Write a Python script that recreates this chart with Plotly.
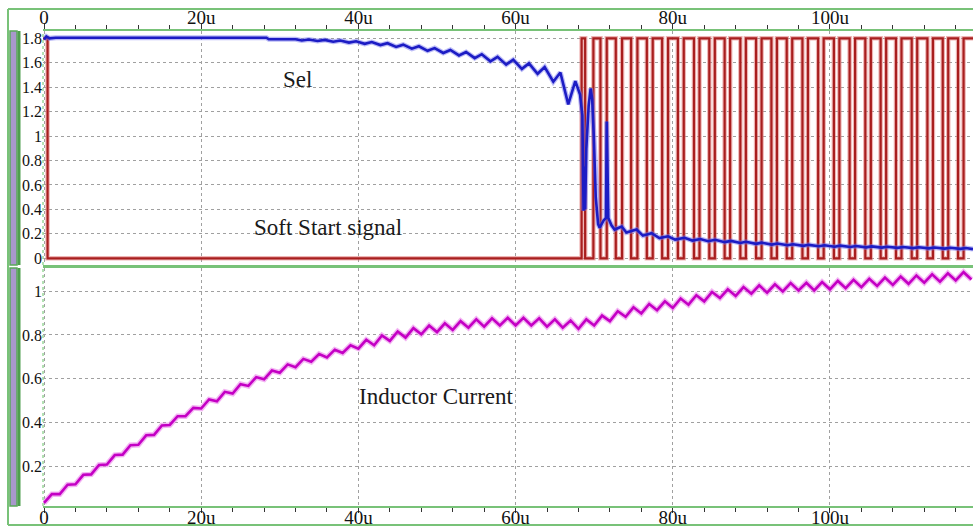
import plotly.graph_objects as go

FONT = "Liberation Serif, Times New Roman, serif"
GREEN = "#78c278"

# ---------------- data ----------------
# x axis ticks (time in microseconds)
x_tickvals = [0, 20, 40, 60, 80, 100]
x_ticktext = ["0", "20u", "40u", "60u", "80u", "100u"]
top_y_tickvals = [0, 0.2, 0.4, 0.6, 0.8, 1.0, 1.2, 1.4, 1.6, 1.8]
top_y_ticktext = ["0", "0.2", "0.4", "0.6", "0.8", "1", "1.2", "1.4", "1.6", "1.8"]
bot_y_tickvals = [0.2, 0.4, 0.6, 0.8, 1.0]
bot_y_ticktext = ["0.2", "0.4", "0.6", "0.8", "1"]

# Soft Start signal: level changes (signal starts high at 1.8)
ss_high = 1.8
ss_low = 0.0
ss_fall = [0.45, 68.85, 70.8, 72.75, 74.7, 76.7, 78.65, 80.65, 82.7, 84.65,
           86.6, 88.6, 90.6, 92.55, 94.5, 96.5, 98.5, 100.5, 102.5, 104.5,
           106.45, 108.4, 110.4, 112.4, 114.35, 116.3]
ss_rise = [68.4, 69.9, 71.6, 73.55, 75.5, 77.45, 79.4, 81.4, 83.4, 85.35,
           87.3, 89.3, 91.3, 93.25, 95.2, 97.2, 99.2, 101.2, 103.2, 105.2,
           107.15, 109.1, 111.1, 113.1, 115.05, 117.0]

# Sel waveform (time, value)
sel_t = [0, 0.3, 0.7, 1.5, 28.3, 28.6, 32.0,
         32.8, 33.7, 34.8, 35.7, 36.8, 37.7, 38.8, 39.7, 40.8, 41.7, 42.8, 43.7,
         44.8, 45.7, 46.8, 47.7, 48.8, 49.7, 50.8, 51.7, 52.8, 53.7, 54.8, 55.7,
         56.8, 57.7, 58.8, 59.7, 60.8, 61.7, 62.8, 63.7, 64.8, 65.7, 66.7, 67.6,
         68.2, 68.5, 68.65, 68.75, 68.85, 69.0, 69.3, 69.55, 69.75, 69.95,
         70.2, 70.5, 70.7, 71.2, 71.5, 71.6, 71.7, 71.8, 72.2, 72.6,
         73.5, 74.1, 75.4, 76.2, 77.3, 78.3, 79.4, 80.3, 81.5,
         82.5, 83.5, 84.5, 85.4,
         86.6, 87.4, 88.6, 89.3, 90.6, 91.3, 92.6, 93.3, 94.6, 95.3, 96.6, 97.3,
         98.6, 99.3, 100.6, 101.3, 102.6, 103.3, 104.6, 105.3, 106.6, 107.3,
         108.6, 109.3, 110.6, 111.3, 112.6, 113.3, 114.6, 115.3, 116.6, 117.3,
         118.2]
sel_v = [1.79, 1.815, 1.80, 1.805, 1.805, 1.792, 1.792,
         1.782, 1.79, 1.778, 1.787, 1.772, 1.782, 1.765, 1.776, 1.755, 1.77, 1.745, 1.76,
         1.73, 1.748, 1.715, 1.735, 1.698, 1.72, 1.68, 1.705, 1.66, 1.688, 1.638, 1.67,
         1.612, 1.648, 1.585, 1.625, 1.55, 1.595, 1.51, 1.565, 1.445, 1.52, 1.26, 1.45,
         1.34, 1.17, 0.39, 0.75, 0.40, 0.9, 1.25, 1.39, 1.3, 1.0,
         0.5, 0.28, 0.25, 0.31, 0.33, 1.12, 0.6, 0.33, 0.27, 0.235,
         0.26, 0.21, 0.235, 0.185, 0.205, 0.165, 0.18, 0.153, 0.168,
         0.145, 0.158, 0.14, 0.152,
         0.132, 0.142, 0.125, 0.135, 0.118, 0.128, 0.112, 0.121, 0.107, 0.115, 0.102, 0.11,
         0.098, 0.106, 0.095, 0.103, 0.092, 0.1, 0.089, 0.097, 0.087, 0.094,
         0.085, 0.092, 0.083, 0.09, 0.081, 0.088, 0.079, 0.086, 0.077, 0.084,
         0.075]

# Inductor current (time, value): alternating valleys / peaks
ind_t = list(range(0, 119))
ind_v = [0.035, 0.075, 0.075, 0.118, 0.12, 0.163, 0.165, 0.208, 0.21, 0.253,
         0.255, 0.298, 0.30, 0.343, 0.345, 0.388, 0.39, 0.43, 0.43, 0.468,
         0.465, 0.506, 0.498, 0.541, 0.533, 0.576, 0.568, 0.608, 0.598, 0.638,
         0.628, 0.666, 0.653, 0.691, 0.678, 0.713, 0.698, 0.733, 0.718, 0.753,
         0.738, 0.778, 0.753, 0.798, 0.773, 0.816, 0.788, 0.831, 0.803, 0.843,
         0.813, 0.853, 0.823, 0.863, 0.833, 0.871, 0.838, 0.876, 0.843, 0.878,
         0.843, 0.878, 0.843, 0.876, 0.838, 0.871, 0.833, 0.866, 0.828, 0.871,
         0.843, 0.888, 0.863, 0.908, 0.883, 0.926, 0.898, 0.941, 0.913, 0.953,
         0.923, 0.966, 0.938, 0.981, 0.953, 0.996, 0.968, 1.008, 0.978, 1.018,
         0.988, 1.026, 0.993, 1.031, 0.998, 1.036, 1.003, 1.038, 1.003, 1.041,
         1.008, 1.046, 1.013, 1.051, 1.018, 1.056, 1.023, 1.061, 1.028, 1.066,
         1.033, 1.071, 1.038, 1.076, 1.043, 1.081, 1.048, 1.086, 1.053]

# ---------------- build the step waveform from the edges ----------------
X_MIN, X_MAX = -0.13, 118.2
edges = sorted([(t, ss_low) for t in ss_fall] + [(t, ss_high) for t in ss_rise])
ss_x, ss_y = [X_MIN - 0.5], [ss_high]
cur = ss_high
for t, lvl in edges:
    ss_x += [t, t]
    ss_y += [cur, lvl]
    cur = lvl
ss_x.append(X_MAX + 0.5)
ss_y.append(cur)

fig = go.Figure()


def add_line(x, y, xa, ya, color, glow, w, gw):
    fig.add_trace(go.Scatter(x=x, y=y, mode="lines", xaxis=xa, yaxis=ya,
                             line=dict(color=glow, width=gw), hoverinfo="skip",
                             showlegend=False))
    fig.add_trace(go.Scatter(x=x, y=y, mode="lines", xaxis=xa, yaxis=ya,
                             line=dict(color=color, width=w), showlegend=False))


add_line(ss_x, ss_y, "x", "y", "#a81e1e", "rgba(225,120,120,0.55)", 2.2, 4.5)
add_line(sel_t, sel_v, "x", "y", "#1c1cc4", "rgba(120,120,240,0.5)", 2.6, 5)
add_line(ind_t, ind_v, "x2", "y2", "#c400c4", "rgba(235,130,235,0.6)", 2.6, 5.5)

# ---------------- layout ----------------
W, H = 973, 527
ML, MR, MT, MB = 43, 0, 31, 21
PW, PH = W - ML - MR, H - MT - MB


def px_x(x):
    return (x - ML) / PW


def px_y(y):
    return (H - MB - y) / PH


top_dom = [px_y(265), 1.0]
bot_dom = [0.0, px_y(268)]

xcommon = dict(range=[X_MIN, X_MAX], tickvals=x_tickvals, ticktext=x_ticktext,
               ticks="outside", ticklen=5, tickcolor="#333", tickwidth=1,
               minor=dict(dtick=4, tick0=0, ticks="outside", ticklen=4,
                          tickcolor="#333", showgrid=False),
               showline=True, linecolor=GREEN, linewidth=2, mirror=True,
               showgrid=True, gridcolor="#a0a0a0", griddash="dot", gridwidth=1,
               zeroline=False, automargin=False,
               tickfont=dict(family=FONT, size=19, color="#111"))
ycommon = dict(showgrid=True, gridcolor="#a0a0a0", griddash="dot", gridwidth=1,
               zeroline=False, showline=False, ticks="", automargin=False,
               tickfont=dict(family=FONT, size=16, color="#111"))

fig.update_layout(
    width=W, height=H,
    margin=dict(l=ML, r=MR, t=MT, b=MB, autoexpand=False),
    paper_bgcolor="white", plot_bgcolor="white",
    showlegend=False,
    xaxis=dict(xcommon, anchor="y", side="top", domain=[0, 1], ticklabelstandoff=-8),
    xaxis2=dict(xcommon, anchor="y2", side="bottom", domain=[0, 1], matches="x",
                ticklabelstandoff=-12),
    yaxis=dict(ycommon, domain=top_dom, range=[-0.055, 1.86],
               tickvals=top_y_tickvals, ticktext=top_y_ticktext),
    yaxis2=dict(ycommon, domain=bot_dom, range=[0.021, 1.105],
                tickvals=bot_y_tickvals, ticktext=bot_y_ticktext),
)

shapes = []
# outer frame lines
shapes.append(dict(type="line", xref="paper", yref="paper", x0=px_x(8), x1=1.0,
                   y0=px_y(9), y1=px_y(9), line=dict(color=GREEN, width=2)))
shapes.append(dict(type="line", xref="paper", yref="paper", x0=px_x(8), x1=1.0,
                   y0=px_y(525), y1=px_y(525), line=dict(color=GREEN, width=2)))
shapes.append(dict(type="line", xref="paper", yref="paper", x0=px_x(8), x1=px_x(8),
                   y0=px_y(525), y1=px_y(9), line=dict(color=GREEN, width=2)))
# left scroll bars
for d in (top_dom, bot_dom):
    shapes.append(dict(type="rect", xref="paper", yref="paper",
                       x0=px_x(10), x1=px_x(17), y0=d[0], y1=d[1],
                       fillcolor="#a898cc", line=dict(color="#5aa85a", width=1.5)))
    shapes.append(dict(type="line", xref="paper", yref="paper",
                       x0=px_x(19), x1=px_x(19), y0=d[0], y1=d[1],
                       line=dict(color="#4e9e4e", width=3)))
    shapes.append(dict(type="line", xref="paper", yref="paper",
                       x0=0, x1=0, y0=d[0], y1=d[1],
                       line=dict(color="#9ad89a", width=1.5, dash="dot")))
fig.update_layout(shapes=shapes)

ann_font = dict(family=FONT, size=23, color="#1a1a1a")
fig.update_layout(annotations=[
    dict(x=32.3, y=1.46, xref="x", yref="y", text="Sel", showarrow=False, font=ann_font),
    dict(x=36.1, y=0.25, xref="x", yref="y", text="Soft Start signal",
         showarrow=False, font=ann_font),
    dict(x=50.0, y=0.52, xref="x2", yref="y2", text="Inductor Current",
         showarrow=False, font=ann_font),
])

fig.write_html("out.html")
